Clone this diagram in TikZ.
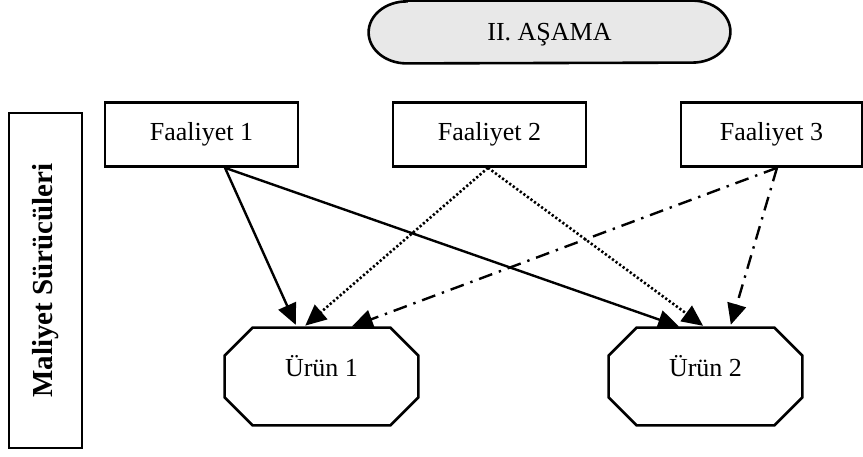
\documentclass[tikz,border=0pt]{standalone}
\usepackage{fontspec}
\setmainfont{Liberation Serif}
\usetikzlibrary{arrows.meta}
\definecolor{stagegray}{RGB}{232,232,232}
\tikzset{
	faal/.style={shape=rectangle,draw=black,line width=1.3pt,minimum width=96.5pt,minimum height=32pt,inner sep=0pt,font=\fontsize{13}{15}\selectfont},
	urun/.style={shape=rectangle,minimum width=96.5pt,minimum height=48.5pt,inner sep=0pt,text height=9pt,text depth=9pt,font=\fontsize{13}{15}\selectfont},
	tip/.style={-{Triangle[length=10.5pt,width=9.5pt]},shorten >=1.5pt},
	solidline/.style={tip,line width=1.2pt},
	dotline/.style={tip,line width=1.3pt,dash pattern=on 1.1pt off 1.1pt},
	dashdotline/.style={tip,line width=1.2pt,dash pattern=on 7pt off 3.5pt on 1.2pt off 3.5pt}
}
\newcommand\urunframe[1]{\draw[line width=1.3pt] ([xshift=14pt]#1.north west) -- ([xshift=-14pt]#1.north east) -- ([yshift=-14pt]#1.north east) -- ([yshift=14pt]#1.south east) -- ([xshift=-14pt]#1.south east) -- ([xshift=14pt]#1.south west) -- ([yshift=14pt]#1.south west) -- ([yshift=-14pt]#1.north west) -- cycle;}
\begin{document}
\begin{tikzpicture}[x=0.5pt,y=-0.5pt]
		\useasboundingbox (0,0) rectangle (863,456);
		\node[minimum width=180.5pt,minimum height=31pt,inner sep=0pt] (S) at (549.5,32) {};
		\fill[stagegray,draw=black,line width=1.3pt] ([xshift=19pt]S.north west) -- ([xshift=-19pt]S.north east)
			arc[start angle=90,end angle=-90,x radius=19pt,y radius=15.5pt] -- ([xshift=19pt]S.south west)
			arc[start angle=270,end angle=90,x radius=19pt,y radius=15.5pt] -- cycle;
		\node[font=\fontsize{13}{15}\selectfont] (ST) at (549.5,35) {II. AŞAMA};
		
		\node[shape=rectangle,draw=black,line width=1.3pt,minimum width=36.5pt,minimum height=167.5pt,inner sep=0pt] (M) at (45.5,280.5) {};
		\node[rotate=90,font=\fontsize{14.5}{17}\selectfont\bfseries] (MT) at (M.center) {Maliyet Sürücüleri};
		
		\node[faal] (A) at (201.5,134.5) {Faaliyet 1};
		\node[faal] (B) at (489.5,134.5) {Faaliyet 2};
		\node[faal,minimum width=90.5pt] (C) at (771.5,134.5) {Faaliyet 3};
		\node[urun] (U) at (321.5,376.5) {Ürün 1};
		\node[urun] (V) at (705.5,376.5) {Ürün 2};
		\urunframe{U}
		\urunframe{V}
		
		\draw[solidline] ([xshift=11.75pt]A.south) -- ([xshift=-12.25pt]U.north);
		\draw[solidline] ([xshift=11.75pt]A.south) -- ([xshift=-11.75pt]V.north);
		\draw[dotline] ([xshift=-0.75pt]B.south) -- ([xshift=-9.25pt]U.north);
		\draw[dotline] ([xshift=-0.75pt]B.south) -- ([xshift=0pt]V.north);
		\draw[dashdotline] ([xshift=2.75pt]C.south) -- ([xshift=13.75pt]U.north);
		\draw[dashdotline] ([xshift=2.75pt]C.south) -- ([xshift=12.25pt]V.north);
\end{tikzpicture}
\end{document}
